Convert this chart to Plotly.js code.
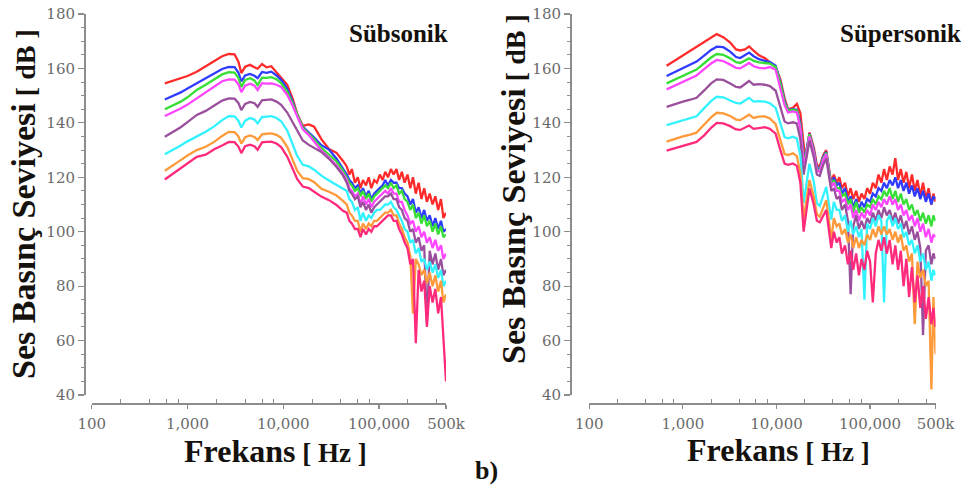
<!DOCTYPE html>
<html>
<head>
<meta charset="utf-8">
<script src="https://cdn.plot.ly/plotly-3.0.1.min.js"></script>
<style>
html,body{margin:0;padding:0;background:#fff;}
#chart{width:970px;height:494px;}
</style>
</head>
<body>
<div id="chart"></div>
<script>
// ---------- DATA ----------
// Sübsonik (left) frequencies, Hz
const freqSub = [580, 700, 850, 1000, 1250, 1550, 1900, 2300, 2700, 3100, 3400, 3650, 4000, 4500, 5000, 5400, 6000, 6700, 7500, 8500, 9500, 11000, 12500, 14000, 16000, 18500, 21000, 25000, 30000, 36000, 42000,
  46000, 49000, 52000, 56000, 60000, 64000, 68000, 73000, 78000, 83000, 89000, 95000, 102000, 109000, 116000, 124000, 133000, 142000, 152000, 162000, 173000, 185000, 198000, 212000, 226000, 242000, 259000, 277000, 296000, 316000, 338000, 362000, 387000, 414000, 443000, 470000, 500000];

const subRed = [154.5, 155.4, 156.3, 157.2, 158.8, 160.7, 162.6, 164.5, 165.3, 165.2, 162.5, 158.3, 160.6, 161.3, 160.4, 159.9, 161.6, 160.4, 160.8, 158.6, 156.6, 154, 149, 143.3, 138.9, 139.4, 138.6, 134, 130.4, 129, 126,
  124, 121, 123, 118, 120, 116, 119, 117, 120, 116, 119, 118, 121, 119, 122, 120, 123, 121, 123, 119, 122, 118, 121, 116, 120, 114, 118, 112, 116, 111, 114, 110, 113, 108, 112, 105, 107];
const subBlue = [148.6, 149.8, 151.2, 152.6, 154.5, 156.3, 158, 159.8, 160.6, 160.5, 158.5, 155.2, 157.4, 158, 157.3, 156.4, 158.7, 158.4, 158.8, 157.4, 155.8, 152.5, 148, 142.8, 138.5, 136.6, 134.6, 131.8, 130.2, 126.8, 123.2,
  121, 119, 118, 116, 117, 114, 116, 113, 115, 112, 114, 115, 116, 117, 119, 117, 119, 118, 118, 116, 116, 114, 113, 110, 112, 107, 109, 105, 108, 104, 106, 102, 105, 101, 104, 100, 101];
const subGreen = [145, 146.3, 147.8, 149.4, 152.1, 154, 155.9, 157.8, 158.6, 158.5, 156.5, 153.2, 155.8, 156.4, 155.6, 153.9, 156.6, 156.5, 156.8, 156, 154.6, 151.5, 147.2, 143, 138.2, 136, 134, 130.8, 128.4, 125.8, 122.5,
  120, 118, 117, 115, 116, 113, 115, 112, 114, 111, 113, 114, 115, 116, 117, 116, 118, 116, 117, 114, 115, 112, 111, 108, 110, 105, 107, 103, 106, 102, 104, 100, 103, 99, 102, 98, 99];
const subMagenta = [142.5, 143.8, 145.3, 146.7, 149, 151.2, 153.3, 155.3, 156, 155.9, 154.2, 151.3, 153.7, 154.4, 153.7, 152.1, 154.6, 154.4, 154.5, 154, 153.2, 150.3, 146.4, 142.4, 137.6, 135.5, 133.2, 129.8, 127.2, 124.3, 121.3,
  119, 116, 115, 113, 114, 110, 113, 110, 112, 109, 111, 112, 113, 114, 115, 114, 116, 114, 114, 111, 111, 108, 106, 103, 104, 100, 102, 98, 100, 96, 98, 94, 97, 93, 95, 90, 92];
const subPurple = [134.9, 136.5, 138.4, 140.3, 142.9, 144.4, 146.2, 148.2, 149, 148.9, 147.3, 144.7, 147, 147.7, 147.2, 145.9, 148.3, 148.4, 148.6, 147.8, 146.6, 143.8, 140.4, 137, 133.5, 131.9, 130.7, 129.3, 126.8, 123.8, 120.7,
  118, 115, 114, 112, 113, 109, 111, 108, 110, 107, 109, 110, 111, 112, 113, 113, 114, 112, 112, 109, 108, 105, 104, 100, 101, 96, 98, 93, 95, 66, 93, 88, 92, 86, 90, 84, 86];
const subCyan = [128.5, 130, 131.7, 133.2, 134.9, 136.7, 138.7, 141, 142.5, 142.4, 140.8, 138.3, 140.8, 141.8, 141.2, 139.8, 142.1, 142.3, 142.5, 141.8, 140.6, 137.2, 132.3, 127.8, 124.6, 124, 122.8, 120.6, 118.8, 117.2, 115.7,
  115, 112, 111, 108, 109, 104, 107, 104, 106, 105, 107, 108, 108, 109, 110, 110, 111, 109, 108, 106, 104, 101, 100, 96, 97, 92, 94, 89, 90, 86, 89, 85, 88, 83, 86, 80, 82];
const subOrange = [122.4, 124.2, 126.3, 128, 130, 131.2, 133, 135.2, 136.7, 136.6, 135, 132.4, 134.7, 135.4, 134.8, 133.7, 135.8, 136, 136.1, 135.6, 134.5, 131.2, 126.2, 122.3, 119.7, 119.3, 118.2, 115.8, 114.7, 113.3, 111.3,
  110, 107, 106, 104, 104, 100, 103, 101, 103, 102, 104, 104, 105, 106, 107, 107, 108, 106, 106, 103, 101, 98, 96, 91, 70, 90, 88, 84, 86, 81, 85, 80, 84, 78, 82, 74, 77];
const subPink = [119.2, 121.2, 123.4, 125.3, 127.5, 128.3, 130.3, 131.7, 133, 132.9, 131.3, 128.9, 131.4, 132, 131.4, 130.1, 132.8, 133, 133.1, 132.4, 131.1, 127.6, 123, 119.3, 116.6, 116, 114.7, 112.9, 111.6, 109.8, 107.7,
  107, 104, 103, 101, 101, 98, 101, 99, 101, 100, 102, 102, 103, 104, 105, 106, 106, 104, 104, 101, 99, 96, 94, 88, 90, 59, 86, 78, 82, 65, 80, 74, 79, 70, 76, 62, 45];

// Süpersonik (right) frequencies, Hz
const freqSup = [670, 800, 1000, 1200, 1400, 1700, 2000, 2300, 2700, 3200, 3700, 4100, 4600, 5100, 5700, 6500, 7500, 8500, 9800, 11000, 12200, 13300, 15000, 16500, 18000, 19500, 20500, 22500, 25000, 27000, 29000, 31500, 34000, 36500, 38500,
  41000, 44000, 47000, 50000, 54000, 58000, 62000, 66000, 71000, 76000, 81000, 87000, 93000, 100000, 107000, 115000, 123000, 132000, 141000, 151000, 162000, 174000, 186000, 199000, 213000, 228000, 244000, 261000, 280000, 300000, 321000, 344000, 368000, 394000, 422000, 452000, 475000, 500000];

const supRed = [161, 162.7, 164.8, 166.5, 168, 169.8, 171.3, 172.6, 171.5, 169.5, 167, 166.6, 167, 168.1, 166.5, 164.8, 163.8, 162.4, 160.5, 156, 149, 145, 145.5, 147, 143.5, 132, 126, 136.5, 131, 124.5, 124, 128, 130, 123, 118,
  121, 118, 120, 116, 118, 113, 116, 112, 115, 111, 114, 112, 116, 114, 118, 116, 121, 118, 123, 119, 124, 121, 127, 119, 123, 118, 122, 116, 121, 115, 119, 113, 118, 112, 116, 110, 114, 111];
const supBlue = [157.2, 158.5, 160, 161.3, 162.5, 164.8, 166.8, 168, 167.8, 166.2, 164.2, 163.8, 164.8, 165.8, 164.5, 163.4, 162.8, 162.3, 161, 155, 148, 144.7, 145, 144.8, 140, 127.5, 128.5, 136, 130, 123.5, 123, 127.5, 129.3, 122, 117,
  120, 117, 118, 114, 116, 111, 113, 109, 112, 108, 111, 109, 112, 111, 114, 113, 116, 115, 118, 116, 119, 117, 120, 116, 119, 115, 118, 114, 117, 113, 116, 112, 115, 111, 114, 110, 113, 112];
const supGreen = [154.5, 155.7, 157.2, 158.5, 159.6, 162, 164, 165.3, 165, 163.7, 162.3, 162, 163, 163.7, 162.8, 162.2, 162, 161.8, 160.5, 154.5, 147.5, 144.5, 144.8, 144.5, 139, 126, 128, 135.8, 129.5, 123, 122.5, 127, 129, 121.5, 117,
  119, 116, 116, 113, 114, 110, 112, 107, 111, 107, 109, 107, 110, 109, 112, 110, 113, 112, 115, 113, 116, 112, 115, 111, 114, 110, 112, 108, 110, 106, 108, 104, 107, 103, 106, 102, 106, 104];
const supMagenta = [152.3, 153.5, 155, 156.3, 157.4, 159.8, 161.8, 163.1, 162.7, 161.4, 160.2, 160, 161.2, 162, 160.8, 160.2, 160, 160.5, 159.5, 153, 146.5, 143.8, 144.2, 143.8, 138, 125, 127, 135, 129, 122.5, 122, 126.5, 128.5, 121, 116.5,
  118, 115, 115, 111, 112, 108, 110, 105, 108, 104, 107, 105, 108, 106, 110, 108, 111, 109, 112, 110, 113, 110, 112, 108, 110, 106, 108, 104, 106, 102, 105, 100, 103, 98, 101, 96, 99, 98];
const supPurple = [145.9, 146.8, 147.8, 148.5, 149.2, 152, 154.5, 156, 155.8, 154.5, 153.2, 153, 154.3, 155.4, 154, 154.2, 154, 153.5, 151.8, 146, 140.5, 139.8, 140.2, 139.8, 134, 121, 125, 133.5, 127.5, 121, 120.5, 124.5, 127, 120, 115,
  116, 112, 113, 108, 110, 104, 77, 102, 106, 101, 104, 101, 105, 103, 107, 104, 108, 105, 109, 106, 108, 104, 107, 103, 106, 101, 104, 99, 102, 97, 100, 94, 62, 93, 95, 88, 92, 90];
const supCyan = [139.2, 140, 141, 141.8, 142.4, 145.5, 148, 149.6, 149.4, 148.2, 147.3, 147.1, 148.3, 149.2, 147.8, 148, 147.8, 147.2, 145.5, 139.5, 134.8, 134.3, 134.9, 134.2, 128, 110.5, 116, 125, 118.5, 110.5, 109.5, 113.5, 116.5, 109.5, 104.5,
  111, 108, 108, 104, 106, 100, 104, 99, 102, 98, 101, 75, 103, 101, 105, 102, 106, 104, 74, 104, 106, 102, 105, 101, 103, 98, 100, 95, 97, 92, 95, 89, 92, 86, 89, 82, 86, 84];
const supOrange = [133.1, 134, 135, 135.7, 136.4, 139.5, 142, 143.7, 143.5, 142.5, 141.2, 141, 142, 143, 141.8, 142.3, 142.4, 141.6, 139.5, 133.5, 128.5, 128.2, 128.8, 127.8, 121.5, 104.3, 110, 119, 113, 106.5, 105.5, 109, 111.6, 103.5, 97,
  105, 102, 103, 99, 101, 96, 99, 94, 98, 94, 97, 95, 99, 97, 101, 98, 102, 99, 102, 99, 101, 97, 100, 96, 99, 93, 95, 89, 92, 66, 89, 83, 86, 80, 82, 42, 76, 55];
const supPink = [129.8, 130.6, 131.5, 132.2, 133, 135.5, 138.2, 140, 139.8, 138.8, 137.6, 137.4, 138.2, 139, 137.8, 138.2, 138.4, 137.8, 136, 130, 125, 124.6, 125.1, 124.2, 118, 100, 106, 115.9, 110, 104, 103.5, 106, 108, 100, 94,
  100, 96, 98, 92, 95, 88, 93, 86, 92, 84, 90, 86, 93, 89, 74, 92, 97, 93, 98, 92, 97, 88, 95, 86, 93, 80, 90, 76, 87, 74, 84, 72, 80, 68, 76, 66, 72, 65];

// tick labels
const xTickVals = [100, 1000, 10000, 100000, 500000];
const xTickText = ['100', '1,000', '10,000', '100,000', '500k'];
const yTickVals = [40, 60, 80, 100, 120, 140, 160, 180];
const minorMultipliers = [2, 4, 6, 8];
const decades = [100, 1000, 10000, 100000];

// ---------- STYLE ----------
const colors = ['#ff2b2b', '#2f3cff', '#36de36', '#ff45ff', '#9a4f9c', '#33f2ff', '#ff9a3a', '#ff2a7c'];
const subSeries = [subRed, subBlue, subGreen, subMagenta, subPurple, subCyan, subOrange, subPink];
const supSeries = [supRed, supBlue, supGreen, supMagenta, supPurple, supCyan, supOrange, supPink];

const minorX = [];
decades.forEach(d => minorMultipliers.forEach(m => { if (d * m < 500000) minorX.push(d * m); }));

const traces = [];
subSeries.forEach((ys, i) => traces.push({x: freqSub, y: ys, xaxis: 'x', yaxis: 'y', type: 'scatter', mode: 'lines',
  line: {color: colors[i], width: 2.3}, hoverinfo: 'skip', showlegend: false}));
supSeries.forEach((ys, i) => traces.push({x: freqSup, y: ys, xaxis: 'x2', yaxis: 'y2', type: 'scatter', mode: 'lines',
  line: {color: colors[i], width: 2.3}, hoverinfo: 'skip', showlegend: false}));

const W = 970, H = 494;
const axisCol = '#8c8c8c';
const tickFont = {family: 'DejaVu Serif, Liberation Serif, serif', size: 15, color: '#6b6b6b'};
function xAx(x0, x1) {
  return {type: 'log', domain: [x0 / W, x1 / W], range: [2, Math.log10(500000)], anchor: 'free', position: 1 - 403 / H,
    side: 'bottom', showline: true, linecolor: axisCol, linewidth: 1.5, showgrid: false, zeroline: false,
    tickmode: 'array', tickvals: xTickVals, ticktext: xTickText, ticks: 'outside', ticklen: 4, tickwidth: 1.2,
    tickcolor: axisCol, tickfont: tickFont, ticklabelstandoff: 2,
    minor: {tickvals: minorX, ticks: 'inside', ticklen: 4, tickwidth: 1, tickcolor: axisCol, showgrid: false},
    fixedrange: true};
}
function yAx(xpos) {
  return {domain: [1 - 395 / H, 1 - 14 / H], range: [40, 180], anchor: 'free', position: xpos / W, side: 'left',
    showline: true, linecolor: axisCol, linewidth: 1.5, showgrid: false, zeroline: false,
    tickmode: 'array', tickvals: yTickVals, ticks: 'outside', ticklen: 6, tickwidth: 1.2, tickcolor: axisCol,
    tickfont: tickFont,
    minor: {tick0: 40, dtick: 5, ticks: 'outside', ticklen: 3, tickwidth: 1, tickcolor: axisCol, showgrid: false},
    fixedrange: true};
}
const serif = 'Liberation Serif, Times New Roman, serif';
const titleCol = '#15110c';
function ann(text, x, y, size, extra) {
  return Object.assign({text: text, xref: 'paper', yref: 'paper', x: x / W, y: 1 - y / H, showarrow: false,
    xanchor: 'center', yanchor: 'middle', font: {family: serif, size: size, color: titleCol}}, extra || {});
}
const yTitle = '<b>Ses Basınç Seviyesi<span style="font-size:28px"> [ dB ]</span></b>';
const xTitle = '<b>Frekans<span style="font-size:27px"> [ Hz ]</span></b>';

const layout = {
  width: W, height: H, margin: {l: 0, r: 0, t: 0, b: 0}, paper_bgcolor: '#ffffff', plot_bgcolor: 'rgba(0,0,0,0)',
  showlegend: false,
  xaxis: xAx(91.7, 446), yaxis: yAx(84),
  xaxis2: xAx(589.3, 935.5), yaxis2: yAx(570),
  annotations: [
    ann(yTitle, 23, 204, 34, {textangle: -90}),
    ann(yTitle, 513, 189, 34, {textangle: -90}),
    ann(xTitle, 275, 451, 32),
    ann(xTitle, 778, 450, 32),
    ann('<b>Sübsonik</b>', 450, 33, 25, {xanchor: 'right'}),
    ann('<b>Süpersonik</b>', 963, 33, 25, {xanchor: 'right'}),
    ann('<b>b)</b>', 486, 470, 26)
  ]
};
Plotly.newPlot('chart', traces, layout, {staticPlot: true, displayModeBar: false});
</script>
</body>
</html>
